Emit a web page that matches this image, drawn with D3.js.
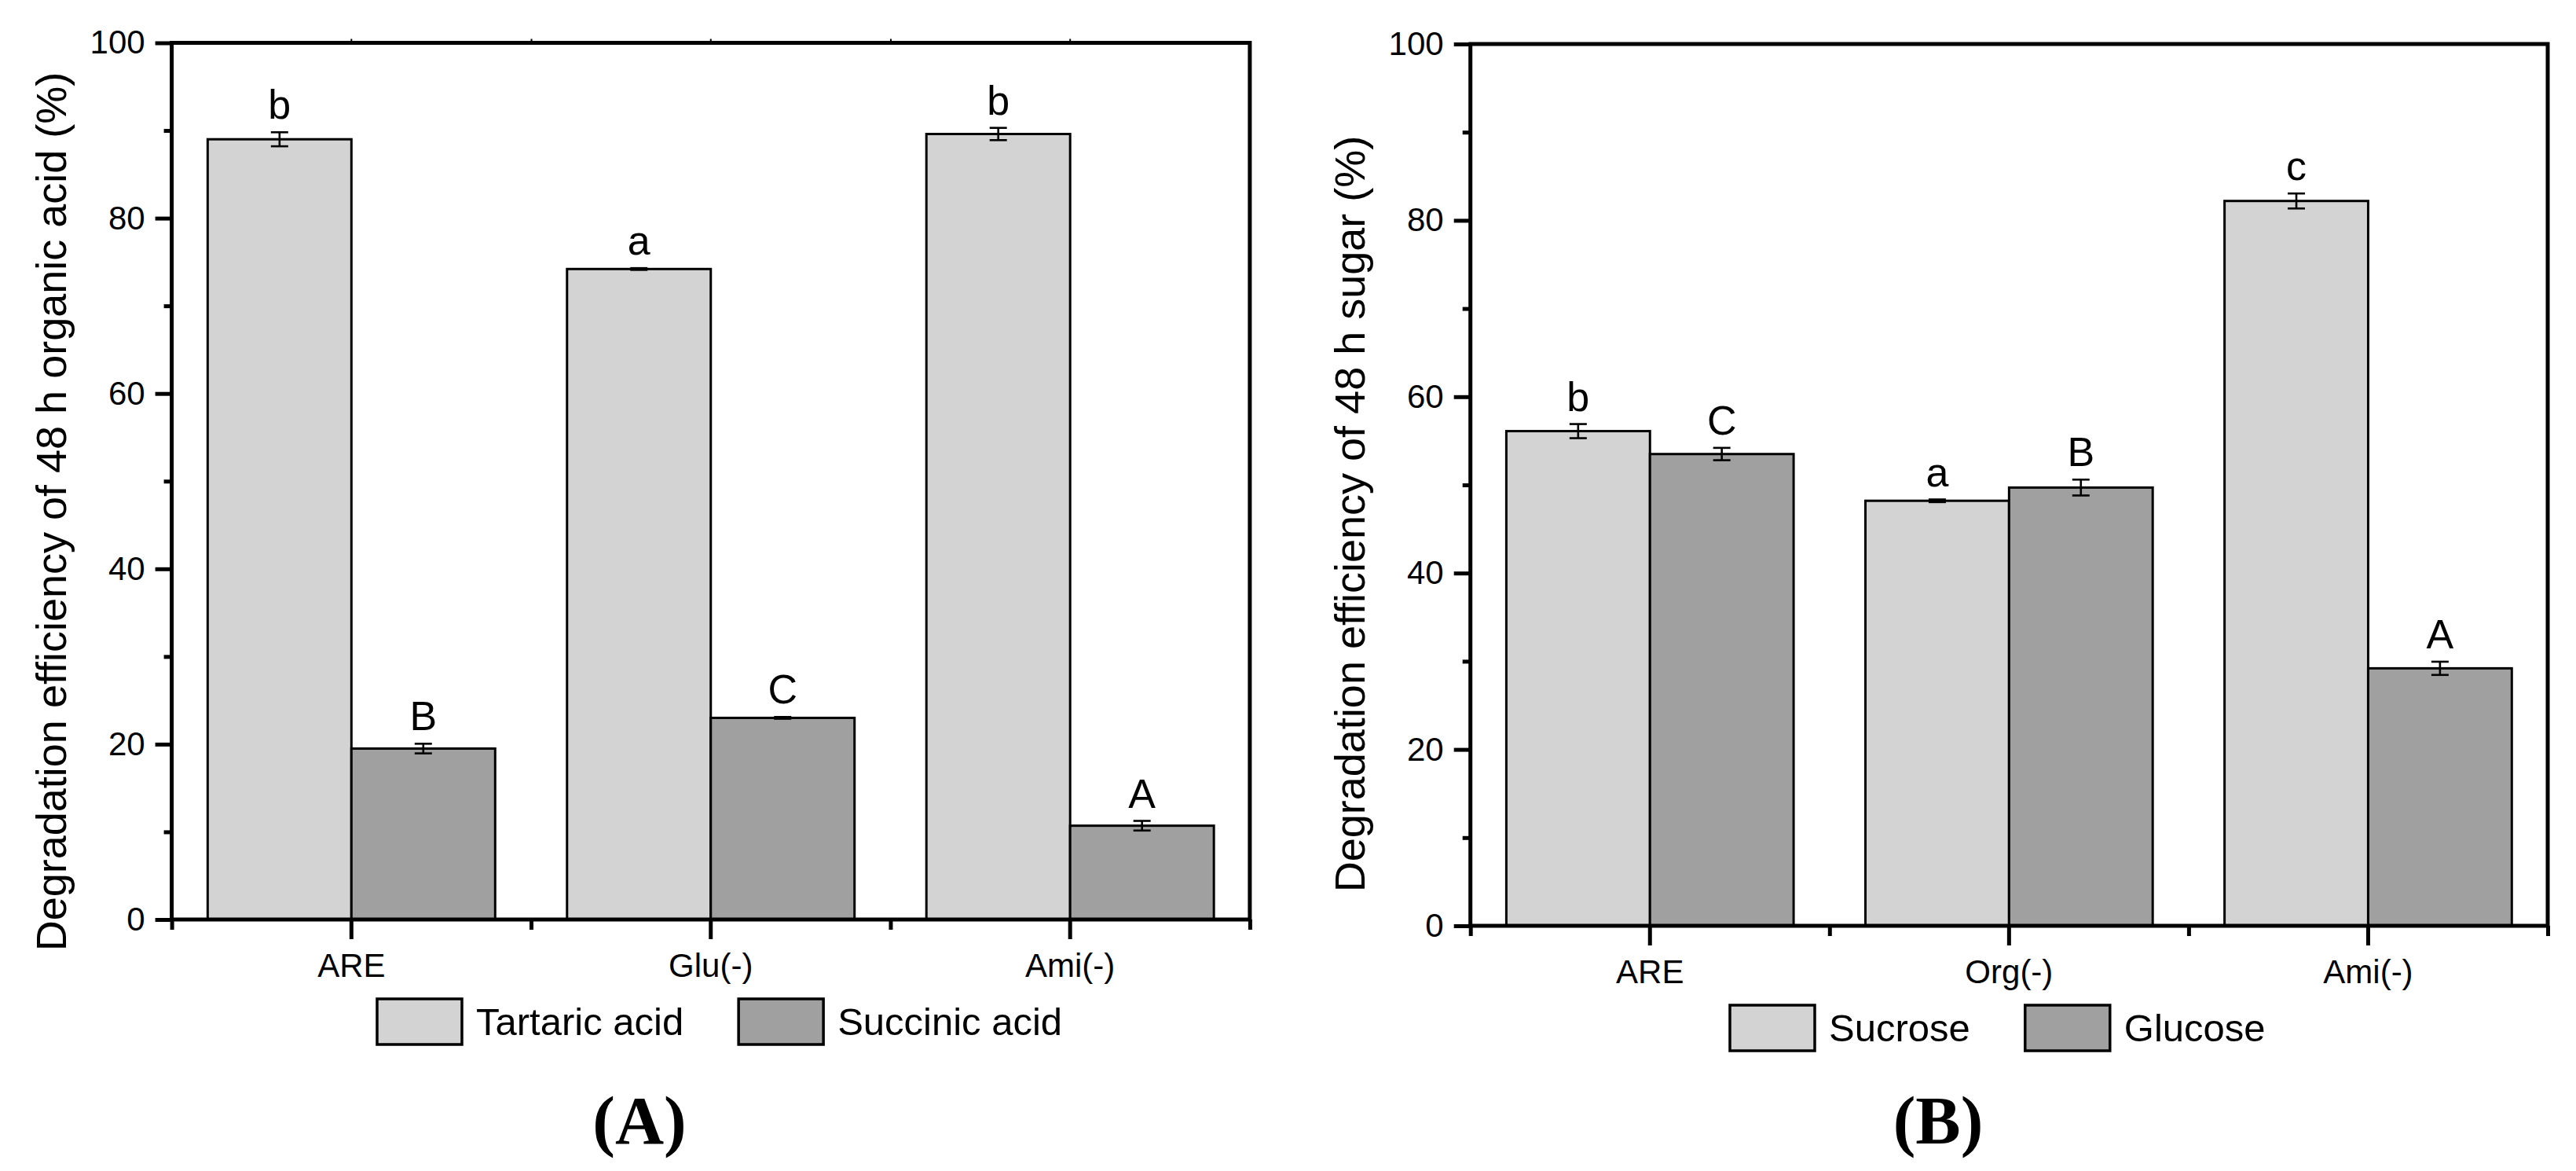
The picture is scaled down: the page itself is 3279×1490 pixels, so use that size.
<!DOCTYPE html>
<html>
<head>
<meta charset="utf-8">
<script src="https://cdn.jsdelivr.net/npm/d3@7"></script>
<style>
  html, body { margin: 0; padding: 0; background: #ffffff; }
  svg { display: block; font-family: "Liberation Sans", Arial, "DejaVu Sans", sans-serif; }
</style>
</head>
<body>
<svg id="chart" width="3279" height="1490"></svg>
<script>
// ---------- Data ----------
// Panel A
const categoriesA = ["ARE", "Glu(-)", "Ami(-)"];
const seriesNamesA = ["Tartaric acid", "Succinic acid"];
const tartaricValues = [89.0, 74.2, 89.6];
const tartaricErrors = [0.8, 0.1, 0.7];
const tartaricLetters = ["b", "a", "b"];
const succinicValues = [19.5, 23.0, 10.7];
const succinicErrors = [0.55, 0.1, 0.55];
const succinicLetters = ["B", "C", "A"];
const yTitleA = "Degradation efficiency of 48 h organic acid (%)";

// Panel B
const categoriesB = ["ARE", "Org(-)", "Ami(-)"];
const seriesNamesB = ["Sucrose", "Glucose"];
const sucroseValues = [56.1, 48.2, 82.2];
const sucroseErrors = [0.8, 0.15, 0.85];
const sucroseLetters = ["b", "a", "c"];
const glucoseValues = [53.5, 49.7, 29.2];
const glucoseErrors = [0.7, 0.9, 0.75];
const glucoseLetters = ["C", "B", "A"];
const yTitleB = "Degradation efficiency of 48 h sugar (%)";

// Shared axis ticks
const yMajorTicks = [0, 20, 40, 60, 80, 100];
const yMinorTicks = [10, 30, 50, 70, 90];
const yDomain = [0, 100];

const seriesColors = ["#d3d3d3", "#a0a0a0"];

// ---------- Drawing ----------
const svg = d3.select("#chart");
svg.append("rect").attr("width", 3279).attr("height", 1490).attr("fill", "#fff");

function drawPanel(cfg) {
  const g = svg.append("g");
  const x = d3.scaleBand().domain(cfg.categories).range([cfg.x0, cfg.x1])
    .paddingInner(0.2).paddingOuter(0.1);
  const xs = d3.scaleBand().domain([0, 1]).range([0, x.bandwidth()]).padding(0);
  const y = d3.scaleLinear().domain(yDomain).range([cfg.yBottom, cfg.yTop]);
  const edge = d3.scaleLinear().domain([0, cfg.categories.length]).range([cfg.x0, cfg.x1]);

  const rows = [];
  cfg.series.forEach((s, si) => {
    cfg.categories.forEach((c, ci) => {
      rows.push({ c, si, v: s.values[ci], e: s.errors[ci], l: s.letters[ci] });
    });
  });

  // Bars
  g.selectAll("rect.bar").data(rows).join("rect")
    .attr("class", "bar")
    .attr("x", d => x(d.c) + xs(d.si))
    .attr("width", xs.bandwidth())
    .attr("y", d => y(d.v))
    .attr("height", d => y(0) - y(d.v))
    .attr("fill", d => seriesColors[d.si])
    .attr("stroke", "#000")
    .attr("stroke-width", 3);

  // Error bars
  const cx = d => x(d.c) + xs(d.si) + xs.bandwidth() / 2;
  const eg = g.append("g").attr("stroke", "#000").attr("stroke-width", 2.6);
  eg.selectAll("line.ev").data(rows).join("line")
    .attr("class", "ev")
    .attr("x1", cx).attr("x2", cx)
    .attr("y1", d => y(d.v - d.e)).attr("y2", d => y(d.v + d.e));
  eg.selectAll("line.et").data(rows).join("line")
    .attr("class", "et")
    .attr("x1", d => cx(d) - 11).attr("x2", d => cx(d) + 11)
    .attr("y1", d => y(d.v + d.e)).attr("y2", d => y(d.v + d.e));
  eg.selectAll("line.eb").data(rows).join("line")
    .attr("class", "eb")
    .attr("x1", d => cx(d) - 11).attr("x2", d => cx(d) + 11)
    .attr("y1", d => y(d.v - d.e)).attr("y2", d => y(d.v - d.e));

  // Significance letters
  g.selectAll("text.sig").data(rows).join("text")
    .attr("class", "sig")
    .attr("x", cx)
    .attr("y", d => y(d.v + d.e) - 17)
    .attr("text-anchor", "middle")
    .attr("font-size", 52)
    .text(d => d.l);

  // Left axis (major + minor)
  const la = g.append("g").attr("transform", `translate(${cfg.x0},0)`)
    .call(d3.axisLeft(y).tickValues(yMajorTicks).tickSize(21).tickPadding(13).tickFormat(d3.format("d")));
  la.attr("font-family", null).attr("font-size", null);
  la.select(".domain").remove();
  la.selectAll("line").attr("stroke", "#000").attr("stroke-width", 5);
  la.selectAll("text").attr("font-size", 42);
  const lm = g.append("g").attr("transform", `translate(${cfg.x0},0)`)
    .call(d3.axisLeft(y).tickValues(yMinorTicks).tickSize(10).tickFormat(""));
  lm.select(".domain").remove();
  lm.selectAll("line").attr("stroke", "#000").attr("stroke-width", 5);

  // Bottom axis: category ticks and band edge ticks
  const ba = g.append("g").attr("transform", `translate(0,${cfg.yBottom})`)
    .call(d3.axisBottom(x).tickSize(25).tickPadding(18));
  ba.attr("font-family", null).attr("font-size", null);
  ba.select(".domain").remove();
  ba.selectAll("line").attr("stroke", "#000").attr("stroke-width", 5);
  ba.selectAll("text").attr("font-size", 42);
  const be = g.append("g").attr("transform", `translate(0,${cfg.yBottom})`)
    .call(d3.axisBottom(edge).tickValues(d3.range(cfg.categories.length + 1)).tickSize(13).tickFormat(""));
  be.select(".domain").remove();
  be.selectAll("line").attr("stroke", "#000").attr("stroke-width", 5);

  // Optional tiny top ticks
  if (cfg.topTicks) {
    const ta = g.append("g").attr("transform", `translate(0,${cfg.yTop})`)
      .call(d3.axisTop(x).tickSize(5).tickFormat(""));
    ta.select(".domain").remove();
    ta.selectAll("line").attr("stroke", "#000").attr("stroke-width", 2);
    const te = g.append("g").attr("transform", `translate(0,${cfg.yTop})`)
      .call(d3.axisTop(edge).tickValues(d3.range(1, cfg.categories.length)).tickSize(5).tickFormat(""));
    te.select(".domain").remove();
    te.selectAll("line").attr("stroke", "#000").attr("stroke-width", 2);
  }

  // Frame
  g.append("rect")
    .attr("x", cfg.x0).attr("y", cfg.yTop)
    .attr("width", cfg.x1 - cfg.x0).attr("height", cfg.yBottom - cfg.yTop)
    .attr("fill", "none").attr("stroke", "#000").attr("stroke-width", 5);

  // Y title
  g.append("text")
    .attr("transform", `translate(${cfg.x0 - 135},${cfg.titleY}) rotate(-90)`)
    .attr("text-anchor", "middle")
    .attr("font-size", 54)
    .text(cfg.yTitle);

  // Legend
  let lx = cfg.legendX;
  const ly = cfg.yBottom + 101;
  cfg.series.forEach((s, si) => {
    g.append("rect")
      .attr("x", lx).attr("y", ly)
      .attr("width", 108).attr("height", 58)
      .attr("fill", seriesColors[si]).attr("stroke", "#000").attr("stroke-width", 3.5);
    const t = g.append("text")
      .attr("x", lx + 126).attr("y", ly + 46)
      .attr("font-size", 49)
      .text(s.name);
    lx = lx + 126 + t.node().getComputedTextLength() + 70;
  });

  // Panel label
  g.append("text")
    .attr("x", cfg.panelLabelX).attr("y", 1455)
    .attr("text-anchor", "middle")
    .attr("font-family", '"Liberation Serif", "Times New Roman", serif')
    .attr("font-weight", "bold")
    .attr("font-size", 86)
    .text(cfg.panelLabel);
}

drawPanel({
  categories: categoriesA,
  series: [
    { name: seriesNamesA[0], values: tartaricValues, errors: tartaricErrors, letters: tartaricLetters },
    { name: seriesNamesA[1], values: succinicValues, errors: succinicErrors, letters: succinicLetters }
  ],
  x0: 218.6, x1: 1590.9, yTop: 54.5, yBottom: 1170,
  titleY: 651, yTitle: yTitleA,
  legendX: 480, panelLabel: "(A)", panelLabelX: 814, topTicks: true
});

drawPanel({
  categories: categoriesB,
  series: [
    { name: seriesNamesB[0], values: sucroseValues, errors: sucroseErrors, letters: sucroseLetters },
    { name: seriesNamesB[1], values: glucoseValues, errors: glucoseErrors, letters: glucoseLetters }
  ],
  x0: 1871.7, x1: 3243, yTop: 56, yBottom: 1178,
  titleY: 654, yTitle: yTitleB,
  legendX: 2202, panelLabel: "(B)", panelLabelX: 2467, topTicks: false
});
</script>
</body>
</html>
